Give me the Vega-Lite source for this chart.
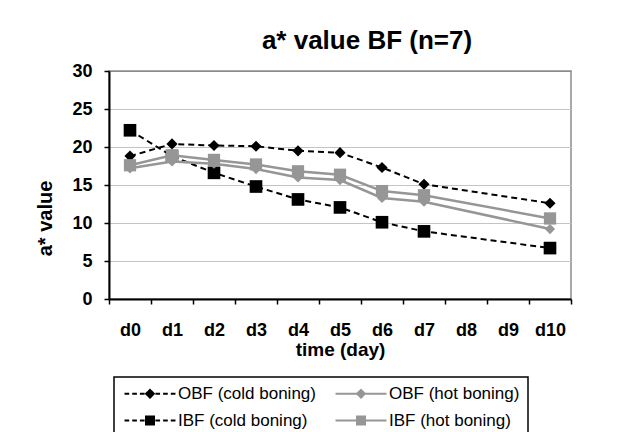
{
  "$schema": "https://vega.github.io/schema/vega-lite/v6.json",
  "width": 462,
  "height": 228,
  "autosize": {"type": "none"},
  "padding": {"left": 109, "top": 71, "right": 46, "bottom": 133},
  "background": "white",
  "title": {
    "text": "a* value BF (n=7)",
    "font": "Liberation Sans",
    "fontSize": 26,
    "fontWeight": "bold",
    "color": "#000000",
    "anchor": "middle",
    "frame": "group",
    "baseline": "alphabetic",
    "offset": 10,
    "dx": 27,
    "dy": 23
  },
  "data": {
    "values": [
      {"series": "OBF (cold boning)", "day": "d0", "t": 0, "value": 18.8},
      {"series": "OBF (cold boning)", "day": "d1", "t": 1, "value": 20.4},
      {"series": "OBF (cold boning)", "day": "d2", "t": 2, "value": 20.2},
      {"series": "OBF (cold boning)", "day": "d3", "t": 3, "value": 20.1},
      {"series": "OBF (cold boning)", "day": "d4", "t": 4, "value": 19.5},
      {"series": "OBF (cold boning)", "day": "d5", "t": 5, "value": 19.25},
      {"series": "OBF (cold boning)", "day": "d6", "t": 6, "value": 17.3},
      {"series": "OBF (cold boning)", "day": "d7", "t": 7, "value": 15.1},
      {"series": "OBF (cold boning)", "day": "d10", "t": 10, "value": 12.6},
      {"series": "IBF (cold boning)", "day": "d0", "t": 0, "value": 22.2},
      {"series": "IBF (cold boning)", "day": "d1", "t": 1, "value": 18.8},
      {"series": "IBF (cold boning)", "day": "d2", "t": 2, "value": 16.6},
      {"series": "IBF (cold boning)", "day": "d3", "t": 3, "value": 14.8},
      {"series": "IBF (cold boning)", "day": "d4", "t": 4, "value": 13.1},
      {"series": "IBF (cold boning)", "day": "d5", "t": 5, "value": 12.05},
      {"series": "IBF (cold boning)", "day": "d6", "t": 6, "value": 10.1},
      {"series": "IBF (cold boning)", "day": "d7", "t": 7, "value": 8.9},
      {"series": "IBF (cold boning)", "day": "d10", "t": 10, "value": 6.7},
      {"series": "OBF (hot boning)", "day": "d0", "t": 0, "value": 17.2},
      {"series": "OBF (hot boning)", "day": "d1", "t": 1, "value": 18.1},
      {"series": "OBF (hot boning)", "day": "d2", "t": 2, "value": 17.8},
      {"series": "OBF (hot boning)", "day": "d3", "t": 3, "value": 17.1},
      {"series": "OBF (hot boning)", "day": "d4", "t": 4, "value": 16.0},
      {"series": "OBF (hot boning)", "day": "d5", "t": 5, "value": 15.65},
      {"series": "OBF (hot boning)", "day": "d6", "t": 6, "value": 13.3},
      {"series": "OBF (hot boning)", "day": "d7", "t": 7, "value": 12.8},
      {"series": "OBF (hot boning)", "day": "d10", "t": 10, "value": 9.2},
      {"series": "IBF (hot boning)", "day": "d0", "t": 0, "value": 17.6},
      {"series": "IBF (hot boning)", "day": "d1", "t": 1, "value": 18.9},
      {"series": "IBF (hot boning)", "day": "d2", "t": 2, "value": 18.3},
      {"series": "IBF (hot boning)", "day": "d3", "t": 3, "value": 17.7},
      {"series": "IBF (hot boning)", "day": "d4", "t": 4, "value": 16.8},
      {"series": "IBF (hot boning)", "day": "d5", "t": 5, "value": 16.35},
      {"series": "IBF (hot boning)", "day": "d6", "t": 6, "value": 14.2},
      {"series": "IBF (hot boning)", "day": "d7", "t": 7, "value": 13.65},
      {"series": "IBF (hot boning)", "day": "d10", "t": 10, "value": 10.6}
    ]
  },
  "encoding": {
    "x": {
      "field": "day",
      "type": "ordinal",
      "scale": {
        "type": "band",
        "domain": ["d0", "d1", "d2", "d3", "d4", "d5", "d6", "d7", "d8", "d9", "d10"],
        "paddingInner": 0,
        "paddingOuter": 0
      },
      "axis": {
        "title": "time (day)",
        "labelAngle": 0,
        "tickBand": "extent",
        "grid": false,
        "domainColor": "#000000",
        "domainWidth": 2,
        "tickColor": "#000000",
        "tickWidth": 1.5,
        "tickSize": 5,
        "labelFont": "Liberation Sans",
        "labelFontSize": 18,
        "labelFontWeight": "bold",
        "labelColor": "#000000",
        "labelPadding": 17,
        "titleFont": "Liberation Sans",
        "titleFontSize": 19,
        "titleFontWeight": "bold",
        "titleColor": "#000000",
        "titleBaseline": "alphabetic",
        "titleY": 56
      }
    },
    "y": {
      "field": "value",
      "type": "quantitative",
      "scale": {"domain": [0, 30], "nice": false},
      "axis": {
        "title": "a* value",
        "values": [0, 5, 10, 15, 20, 25, 30],
        "grid": true,
        "gridColor": {"condition": {"test": "datum.value == 30", "value": "#8c8c8c"}, "value": "#c4c4c4"},
        "gridWidth": 1.2,
        "domainColor": "#000000",
        "domainWidth": 2,
        "tickColor": "#000000",
        "tickWidth": 1.5,
        "tickSize": 5,
        "labelFont": "Liberation Sans",
        "labelFontSize": 18,
        "labelFontWeight": "bold",
        "labelColor": "#000000",
        "labelPadding": 12,
        "titleFont": "Liberation Sans",
        "titleFontSize": 20,
        "titleFontWeight": "bold",
        "titleColor": "#000000",
        "titleAngle": -90,
        "titleAlign": "center",
        "titleBaseline": "middle",
        "titleX": -64,
        "titleY": 147
      }
    },
    "color": {
      "field": "series",
      "type": "nominal",
      "scale": {
        "domain": ["OBF (cold boning)", "OBF (hot boning)", "IBF (cold boning)", "IBF (hot boning)"],
        "range": ["#000000", "#969696", "#000000", "#969696"]
      },
      "legend": {
        "title": null,
        "orient": "none",
        "legendX": 5,
        "legendY": 306,
        "columns": 2,
        "direction": "horizontal",
        "padding": 8,
        "strokeColor": "#000000",
        "fillColor": "#ffffff",
        "symbolSize": 196,
        "symbolStrokeWidth": 2,
        "symbolOffset": 19.5,
        "labelOffset": 19.5,
        "columnPadding": 15,
        "rowPadding": 9,
        "labelFont": "Liberation Sans",
        "labelFontSize": 17,
        "labelColor": "#000000",
        "labelLimit": 0,
        "labelExpr": "indexof(datum.label, 'hot') >= 0 ? datum.label + '\u00a0\u00a0\u00a0\u00a0' : datum.label",
        "encode": {
          "legend": {"update": {"strokeWidth": {"value": 1.5}}},
          "symbols": {
            "update": {
              "shape": {"signal": "datum.value == 'OBF (cold boning)' ? 'M-3.64,0L-2.97,0M-2.54,0L-1.87,0M-1.44,0L-0.77,0M0.77,0L1.44,0M1.87,0L2.54,0M2.97,0L3.64,0M0,-0.55L0.55,0L0,0.55L-0.55,0Z' : datum.value == 'IBF (cold boning)' ? 'M-3.64,0L-2.97,0M-2.54,0L-1.87,0M-1.44,0L-0.77,0M0.77,0L1.44,0M1.87,0L2.54,0M2.97,0L3.64,0M-0.57,-0.57L0.57,-0.57L0.57,0.57L-0.57,0.57Z' : datum.value == 'OBF (hot boning)' ? 'M-3.64,0L3.64,0M0,-0.55L0.55,0L0,0.55L-0.55,0Z' : 'M-3.64,0L3.64,0M-0.57,-0.57L0.57,-0.57L0.57,0.57L-0.57,0.57Z'"},
              "fill": {"signal": "indexof(datum.value, 'cold') >= 0 ? '#000000' : '#969696'"},
              "stroke": {"signal": "indexof(datum.value, 'cold') >= 0 ? '#000000' : '#969696'"},
              "strokeDash": {"value": [1, 0]},
              "strokeWidth": {"value": 2},
              "opacity": {"value": 1}
            }
          }
        }
      }
    },
    "order": {"field": "t", "type": "quantitative"}
  },
  "layer": [
    {
      "transform": [{"filter": "indexof(datum.series, 'cold') >= 0"}],
      "mark": {"type": "line", "strokeWidth": 2, "strokeDash": [6, 4]},
      "encoding": {}
    },
    {
      "transform": [{"filter": "datum.series == 'OBF (cold boning)'"}],
      "mark": {"type": "point", "shape": "diamond", "size": 125, "filled": true, "opacity": 1, "strokeWidth": 0},
      "encoding": {}
    },
    {
      "transform": [{"filter": "datum.series == 'IBF (cold boning)'"}],
      "mark": {"type": "point", "shape": "square", "size": 160, "filled": true, "opacity": 1, "strokeWidth": 0},
      "encoding": {}
    },
    {
      "transform": [{"filter": "indexof(datum.series, 'hot') >= 0"}],
      "mark": {"type": "line", "strokeWidth": 2.5},
      "encoding": {}
    },
    {
      "transform": [{"filter": "datum.series == 'OBF (hot boning)'"}],
      "mark": {"type": "point", "shape": "diamond", "size": 105, "filled": true, "opacity": 1, "strokeWidth": 0},
      "encoding": {}
    },
    {
      "transform": [{"filter": "datum.series == 'IBF (hot boning)'"}],
      "mark": {"type": "point", "shape": "square", "size": 150, "filled": true, "opacity": 1, "strokeWidth": 0},
      "encoding": {}
    }
  ],
  "config": {
    "view": {"stroke": "#8c8c8c", "strokeWidth": 1.5}
  }
}
